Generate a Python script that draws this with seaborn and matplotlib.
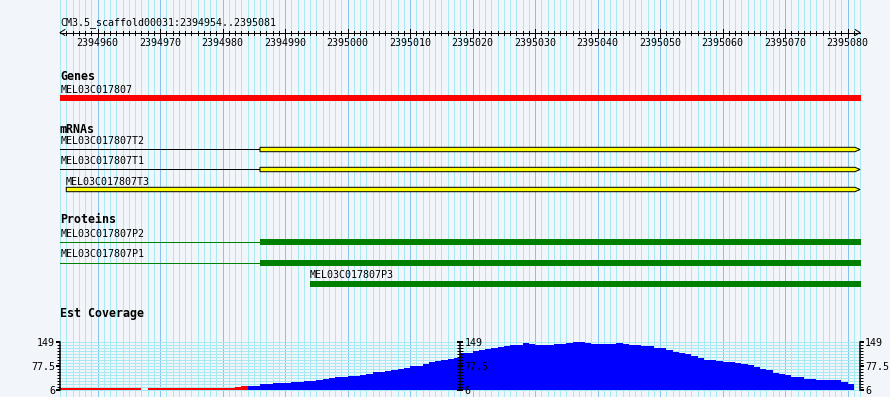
import numpy as np
import pandas as pd
import matplotlib
matplotlib.use("Agg")
import matplotlib.pyplot as plt
from matplotlib.patches import Rectangle, Polygon
import seaborn as sns

# ---------------- data ----------------
ref_name = "CM3.5_scaffold00031"
view_start = 2394954
view_end = 2395081
ruler_step = 10

gene_names = ["MEL03C017807"]
gene_starts = [2394954]
gene_ends = [2395081]

mrna_names = ["MEL03C017807T2", "MEL03C017807T1", "MEL03C017807T3"]
mrna_starts = [2394954, 2394954, 2394955]
mrna_box_starts = [2394986, 2394986, 2394955]
mrna_ends = [2395081, 2395081, 2395081]

protein_names = ["MEL03C017807P2", "MEL03C017807P1", "MEL03C017807P3"]
protein_starts = [2394954, 2394954, 2394994]
protein_thick_starts = [2394986, 2394986, 2394994]
protein_ends = [2395081, 2395081, 2395081]

track_titles = ["Genes", "mRNAs", "Proteins", "Est Coverage"]

coverage = [
    11, 11, 11, 11, 13, 13, 11, 11, 11, 11,
    11, 11, 11, 6, 11, 11, 11, 11, 11, 11,
    12, 12, 12, 12, 12, 12, 12, 12, 14, 17,
    19, 19, 23, 23, 27, 27, 27, 31, 31, 34,
    34, 37, 40, 43, 46, 46, 49, 49, 52, 55,
    61, 61, 64, 67, 70, 73, 78, 78, 84, 90,
    92, 96, 98, 102, 117, 117, 123, 125, 129, 130,
    134, 137, 140, 140, 145, 144, 139, 139, 140, 142,
    144, 146, 148, 149, 146, 143, 142, 142, 143, 145,
    144, 141, 140, 138, 137, 130, 132, 124, 120, 117,
    113, 107, 100, 95, 95, 92, 90, 90, 85, 82,
    80, 74, 68, 66, 58, 53, 50, 46, 44, 40,
    38, 36, 35, 35, 35, 30, 25, 6,
]
cov_min = 6
cov_max = 149
cov_tick_values = [6, 77.5, 149]
cov_tick_labels = ["6", "77.5", "149"]
cov_pivot = 18

# ---------------- style / layout ----------------
W, H = 890, 397
PX0 = 60.0      # pixel of view_start
PXW = 6.25      # pixels per bp
BG = "#f2f5f9"
GRID_MINOR = "#a8eaf2"
GRID_MAJOR = "#86c4ee"
RED = "#ff0000"
BLUE = "#0000ff"
YELLOW = "#ffff00"
GREEN = "#008000"
SMALL = 7.2
BOLD = 8.4
LW1 = 0.72      # 1 pixel in points

sns.set_style("white")
plt.rcParams["font.family"] = ["DejaVu Sans Mono", "DejaVu Sans"]
plt.rcParams["text.color"] = "black"
plt.rcParams["xtick.color"] = "black"
plt.rcParams["ytick.color"] = "black"
plt.rcParams["axes.labelcolor"] = "black"


def bp(pixels):
    return pixels / PXW


fig = plt.figure(figsize=(W / 100, H / 100), dpi=100)
fig.patch.set_facecolor(BG)
ax = fig.add_axes([0, 0, 1, 1])
ax.set_xlim(view_start - bp(PX0), view_start + bp(W - PX0))
ax.set_ylim(H, 0)
ax.axis("off")

# grid
grid_pos = np.arange(view_start, view_end + 2)
minor_g = grid_pos[grid_pos % ruler_step != 0]
major_g = grid_pos[grid_pos % ruler_step == 0]
ax.vlines(minor_g, 0, H, colors=GRID_MINOR, lw=LW1, antialiased=False, zorder=0)
ax.vlines(major_g, 0, H, colors=GRID_MAJOR, lw=LW1, antialiased=False, zorder=0)

# ruler
y_r = 32.5
ax.text(view_start + bp(0.7), 25, f"{ref_name}:{view_start}..{view_end}",
        fontsize=SMALL, ha="left", va="baseline", color="black")
ax.hlines(y_r, view_start, view_end + 1, colors="black", lw=LW1, antialiased=False)
tick_pos = np.arange(view_start + 1, view_end + 1)
ax.vlines(tick_pos, y_r - 2, y_r + 2, colors="black", lw=LW1, antialiased=False)
major_t = tick_pos[tick_pos % ruler_step == 0]
ax.vlines(major_t, y_r - 4, y_r + 4, colors="black", lw=LW1, antialiased=False)
for t in major_t:
    ax.text(t, 45.7, str(t), fontsize=SMALL, ha="center", va="baseline")
ax.plot([view_start + bp(5), view_start, view_start + bp(5)],
        [y_r - 3, y_r, y_r + 3], color="black", lw=LW1)
ax.plot([view_end + 1 - bp(5), view_end + 1, view_end + 1 - bp(5)],
        [y_r - 3, y_r, y_r + 3], color="black", lw=LW1)

# track titles
title_y = [80, 132.7, 223.3, 317.5]
for t, yb in zip(track_titles, title_y):
    ax.text(view_start, yb, t, fontsize=BOLD, fontweight="bold", ha="left", va="baseline")

# genes
gene_label_y = [92.7]
gene_bar_y = [95.0]
for name, s, e, ly, by in zip(gene_names, gene_starts, gene_ends, gene_label_y, gene_bar_y):
    ax.add_patch(Rectangle((s - bp(0.5), by), e + 1 - s + bp(1), 6, fc=RED, ec="none"))
    ax.text(s + bp(0.7), ly, name, fontsize=SMALL, ha="left", va="baseline")

# mRNAs
mrna_label_y = [144, 164.3, 185]
mrna_y = [149.5, 169.5, 189.5]
half = 2.2
for name, s, bs, e, ly, yc in zip(mrna_names, mrna_starts, mrna_box_starts, mrna_ends,
                                    mrna_label_y, mrna_y):
    if bs > s:
        ax.hlines(yc - 0.3, s, bs, colors="black", lw=LW1, antialiased=False)
    x1 = e + 1
    a = bp(5)
    poly = Polygon([(bs, yc - half), (x1 - a, yc - half), (x1, yc),
                    (x1 - a, yc + half), (bs, yc + half)],
                   closed=True, fc=YELLOW, ec="black", lw=LW1, zorder=3)
    ax.add_patch(poly)
    ax.text(s + bp(0.7) if s == view_start else s - bp(0.6), ly, name,
            fontsize=SMALL, ha="left", va="baseline")

# proteins
prot_label_y = [236.7, 257.3, 278.3]
prot_line_y = [241.6, 262.6, 283.6]
prot_bar_y = [242.3, 263.0, 283.8]
for name, s, ts, e, ly, lny, byc in zip(protein_names, protein_starts, protein_thick_starts,
                                         protein_ends, prot_label_y, prot_line_y, prot_bar_y):
    if ts > s:
        ax.hlines(lny, s, ts, colors=GREEN, lw=LW1, antialiased=False)
    ax.add_patch(Rectangle((ts, byc - 3), e + 1 - ts + bp(1), 6, fc=GREEN, ec="none", zorder=3))
    ax.text(s + bp(0.7) if s == view_start else s, ly, name,
            fontsize=SMALL, ha="left", va="baseline")

# coverage
cov_top_px, cov_bot_px = 342.0, 390.0
left = PX0 / W
width = len(coverage) * PXW / W
bottom = (H - cov_bot_px) / H
height = (cov_bot_px - cov_top_px) / H
ax_cov = fig.add_axes([left, bottom, width, height])
ax_cov.patch.set_alpha(0)

df = pd.DataFrame({
    "pos": np.arange(view_start, view_start + len(coverage)) + 0.5,
    "cov": coverage,
})
df["tone"] = np.where(df["cov"] < cov_pivot, "low", "high")
for tone, col in [("high", BLUE), ("low", RED)]:
    sub = df[df["tone"] == tone]
    sns.histplot(data=sub, x="pos", weights="cov", discrete=True, color=col,
                 alpha=1, linewidth=0, antialiased=False, ax=ax_cov, zorder=2)

ax_cov.set_xlim(view_start, view_start + len(coverage))
ax_cov.set_ylim(cov_min, cov_max)
ax_cov.set_xlabel("")
ax_cov.set_ylabel("")
ax_cov.set_xticks([])
minor_y = np.linspace(cov_min, cov_max, 17)
for yv in minor_y:
    ax_cov.axhline(yv, color=GRID_MINOR, lw=LW1, zorder=0, clip_on=False)
ax_cov.set_yticks(cov_tick_values)
ax_cov.set_yticklabels(cov_tick_labels)
ax_cov.set_yticks(minor_y, minor=True)
for sp in ["top", "bottom"]:
    ax_cov.spines[sp].set_visible(False)
for sp in ["left", "right"]:
    ax_cov.spines[sp].set_color("black")
    ax_cov.spines[sp].set_linewidth(LW1 * 1.5)
ax_cov.tick_params(axis="y", which="both", left=True, right=True, labelleft=True,
                   labelright=True, direction="out", labelsize=SMALL, pad=0.7,
                   colors="black")
ax_cov.tick_params(axis="y", which="major", length=2.9, width=1.44)
ax_cov.tick_params(axis="y", which="minor", length=2.16, width=LW1)

ax_mid = fig.add_axes([left + width / 2, bottom, 0.00001, height])
ax_mid.patch.set_alpha(0)
ax_mid.set_ylim(cov_min, cov_max)
ax_mid.set_xticks([])
for sp in ["top", "bottom", "left"]:
    ax_mid.spines[sp].set_visible(False)
ax_mid.spines["right"].set_linewidth(LW1 * 1.5)
ax_mid.spines["right"].set_color("black")
ax_mid.yaxis.tick_right()
ax_mid.set_yticks(cov_tick_values)
ax_mid.set_yticklabels(cov_tick_labels)
ax_mid.set_yticks(minor_y, minor=True)
ax_mid.tick_params(axis="y", which="both", direction="inout", labelsize=SMALL, pad=0.7,
                   colors="black")
ax_mid.tick_params(axis="y", which="major", length=5.0, width=1.44)
ax_mid.tick_params(axis="y", which="minor", length=4.0, width=LW1)

fig.savefig("out.png", dpi=100, facecolor=BG)
